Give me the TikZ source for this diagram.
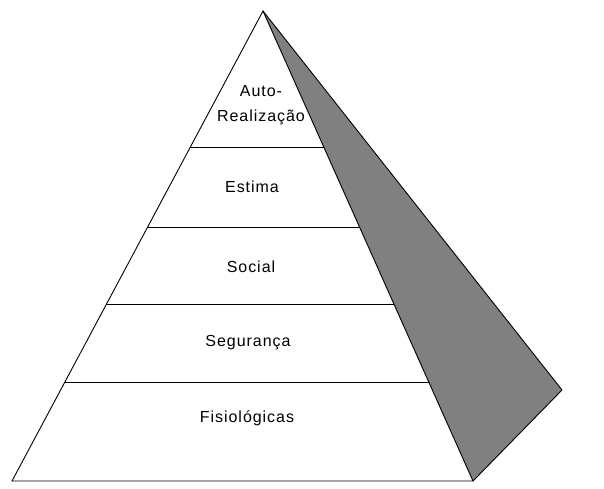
\documentclass[tikz,border=0pt]{standalone}
\usepackage{fontspec}
\setmainfont{Liberation Sans}[LetterSpace=6]
\usetikzlibrary{calc}
\begin{document}
\begin{tikzpicture}[x=1pt, y=-1pt, line width=0.9pt,
        level/.style = {font=\fontsize{16}{25}\selectfont, align=center}]

    \useasboundingbox (0,0) rectangle (604,488);

    % Corners
    \coordinate (top) at (263,11);
    \coordinate (bl) at (12,481);
    \coordinate (br) at (473,481);
    \coordinate (rr) at (562,390);

    % Shaded side
    \fill[gray] (top) -- (rr) -- (br) -- cycle;
    \draw (top) -- (rr) -- (br);

    % Front face
    \draw (top) -- (bl) -- (br) -- cycle;

    % Levels
    \foreach \y in {147,227,304,382} {
        \draw ($(top)!{(\y-11)/470}!(bl)$) -- ($(top)!{(\y-11)/470}!(br)$);
    }

    % Labels
    \node[level] (auto) at (261,105) {Auto-\\Realização};
    \node[level] (estima) at (252,187) {Estima};
    \node[level] (social) at (251,267) {Social};
    \node[level] (seg) at (248,343) {Segurança};
    \node[level] (fisio) at (247,418) {Fisiológicas};

\end{tikzpicture}
\end{document}
